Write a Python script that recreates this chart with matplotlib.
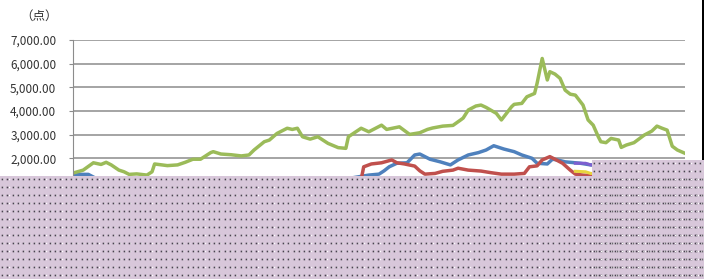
import matplotlib
matplotlib.use("Agg")
import matplotlib.pyplot as plt
from matplotlib.patches import Rectangle
import numpy as np

plt.rcParams['font.family'] = ['Noto Sans CJK JP', 'DejaVu Sans']

# month index (0 = first month of the series) and index level in points
green_m = [0, 4, 8, 11, 13, 15, 18, 20, 22, 25, 29, 31, 32, 37, 41, 44, 47, 50,
           54, 55, 58, 62, 66, 69, 71, 75, 77, 80, 84, 86, 88, 90, 93, 96, 100,
           104, 107, 108, 113, 116, 121, 123, 128, 132, 136, 139, 141, 145, 149,
           152, 153, 155, 158, 160, 162, 166, 168, 172, 173, 176, 178, 181, 182,
           184, 186, 187, 189, 191, 193, 195, 197, 200, 202, 204, 206, 207, 209,
           211, 214, 215, 217, 220, 224, 227, 229, 231, 233, 235, 237, 240]
green_v = [1375, 1500, 1810, 1740, 1830, 1720, 1500, 1430, 1320, 1340, 1290, 1430,
           1760, 1690, 1720, 1830, 1960, 1960, 2240, 2280, 2180, 2150, 2100, 2140,
           2350, 2700, 2770, 3050, 3270, 3220, 3270, 2910, 2810, 2910, 2630, 2450,
           2420, 2910, 3270, 3120, 3400, 3220, 3330, 3010, 3080, 3220, 3280, 3360,
           3390, 3620, 3700, 4040, 4210, 4250, 4150, 3900, 3620, 4180, 4280, 4320,
           4600, 4740, 5170, 6220, 5310, 5660, 5560, 5380, 4880, 4710, 4670, 4250,
           3620, 3400, 2910, 2700, 2660, 2840, 2770, 2460, 2560, 2660, 2980, 3150,
           3360, 3270, 3190, 2510, 2350, 2210]

blue_m = [0, 6, 9, 20, 60, 100, 116, 120, 122, 124, 127, 131, 134, 136, 140, 144,
          148, 151, 155, 159, 162, 165, 169, 173, 176, 180, 182, 186, 188, 190,
          193, 199, 203, 215, 240]
blue_v = [1320, 1320, 1150, 1000, 900, 1000, 1290, 1330, 1470, 1640, 1790, 1810,
          2140, 2180, 1960, 1850, 1720, 1930, 2140, 2240, 2350, 2530, 2390, 2280,
          2140, 2000, 1790, 1760, 1960, 1930, 1850, 1790, 1720, 1650, 1600]

red_m = [113, 114, 117, 121, 125, 127, 130, 134, 136, 138, 142, 145, 149, 151,
         155, 160, 164, 168, 173, 177, 179, 182, 184, 187, 189, 192, 195, 197,
         200, 203, 215, 240]
red_v = [1100, 1640, 1760, 1810, 1930, 1810, 1760, 1670, 1470, 1330, 1360, 1450,
         1500, 1580, 1500, 1460, 1390, 1330, 1330, 1360, 1640, 1680, 1930, 2070,
         1960, 1790, 1500, 1330, 1290, 1270, 1200, 1150]

purple_m = [197, 201, 203, 215, 240]
purple_v = [1790, 1790, 1720, 1650, 1600]

yellow_m = [197, 201, 203, 215, 240]
yellow_v = [1450, 1430, 1360, 1300, 1250]

yticks = list(range(0, 7001, 1000))

fig = plt.figure(figsize=(7.04, 2.79), dpi=100)
ax = fig.add_axes([73/704, 1 - 205.6/279, 612/704, 165.6/279])

ax.plot(blue_m, blue_v, color='#4F81BD', lw=2.5, solid_joinstyle='round')
ax.plot(red_m, red_v, color='#C0504D', lw=2.5, solid_joinstyle='round')
ax.plot(green_m, green_v, color='#9BBB59', lw=2.5, solid_joinstyle='round')
ax.plot(purple_m, purple_v, color='#7D5FD0', lw=2.2)
ax.plot(yellow_m, yellow_v, color='#E8D43C', lw=2.2)

ax.set_xlim(0, 240)
ax.set_ylim(0, 7000)
ax.set_yticks(yticks)
ax.set_yticklabels([f"{v:,.2f}" for v in yticks])
ax.set_xticks([])
ax.grid(axis='y', color='#8c8c8c', lw=1.1)
ax.set_axisbelow(True)
for s in ['top', 'right', 'bottom']:
    ax.spines[s].set_visible(False)
ax.spines['left'].set_color('#8c8c8c')
ax.tick_params(axis='y', length=3, color='#8c8c8c', labelsize=8.5,
               labelcolor='#333333', pad=9)

fig.text(20/704, 1 - 16/279, "（点）", fontsize=9, color='#333333',
         va='center', ha='left')

# masked-out area of the source image
for (x0, y0, w, h) in [(0, 176, 704, 103), (592, 160, 112, 119)]:
    fig.add_artist(Rectangle((x0/704, 1 - (y0 + h)/279), w/704, h/279,
                             transform=fig.transFigure, facecolor='#d8c7da',
                             edgecolor='none', zorder=10))
    xs = np.arange(x0 + 2, x0 + w, 5.3)
    ys = np.arange(y0 + 3, y0 + h, 8.0)
    gx, gy = np.meshgrid(xs, ys)
    fig.add_artist(plt.Line2D((gx.ravel() + 1.2)/704, 1 - gy.ravel()/279,
                              ls='none', marker='s', ms=1.0, mew=0,
                              color='white', transform=fig.transFigure,
                              zorder=11))
    fig.add_artist(plt.Line2D(gx.ravel()/704, 1 - gy.ravel()/279, ls='none',
                              marker='s', ms=1.2, mew=0, color='#4a4250',
                              transform=fig.transFigure, zorder=11))

fig.add_artist(Rectangle((702/704, 1 - 160/279), 2/704, 160/279,
                         transform=fig.transFigure, facecolor='black',
                         edgecolor='none', zorder=10))

fig.savefig("out.png", dpi=100)
